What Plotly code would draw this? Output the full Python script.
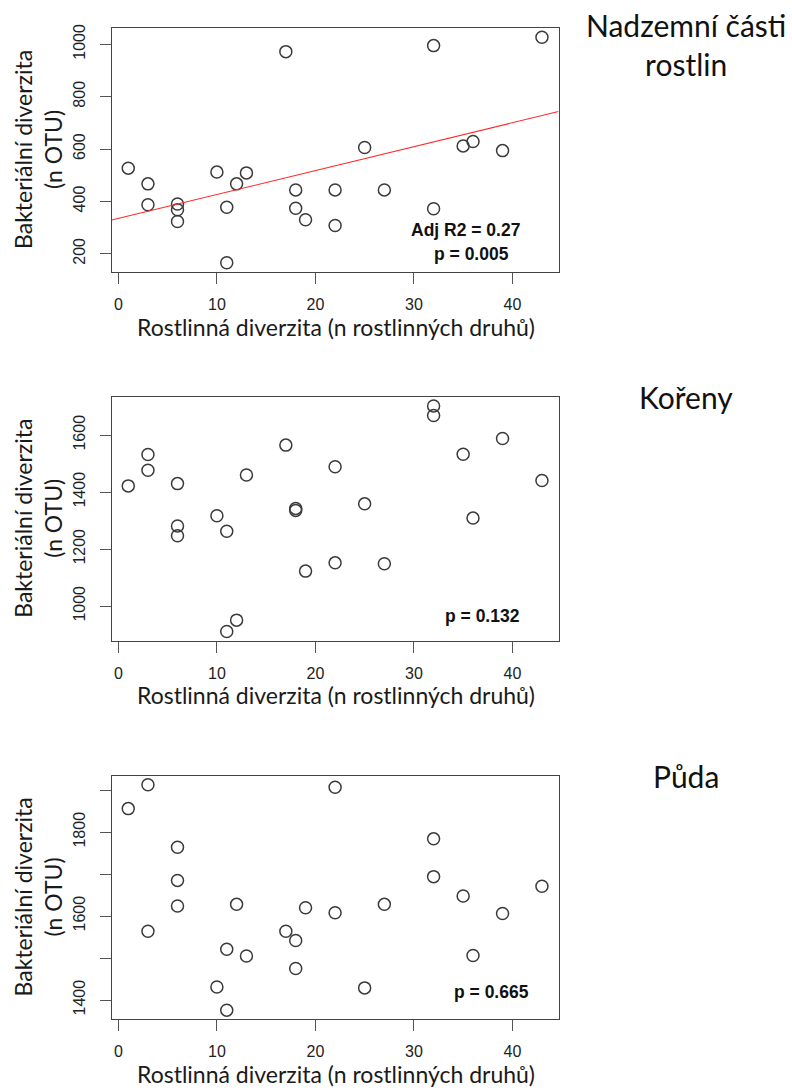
import numpy as np
import plotly.graph_objects as go

# ---------------- data ----------------
plant_species = [1, 3, 3, 6, 6, 6, 10, 11, 11, 12, 13, 17, 18, 18, 19, 22, 22, 25, 27, 32, 32, 35, 36, 39, 43]

otu_shoots = [527, 467, 387, 390, 368, 323, 512, 378, 166, 467, 509, 972, 444, 374, 330,
              444, 308, 606, 444, 995, 372, 612, 629, 594, 1027]
otu_roots = [1422, 1532, 1477, 1430, 1281, 1247, 1317, 1263, 911, 951, 1460, 1565, 1343, 1336, 1123,
             1489, 1152, 1359, 1149, 1702, 1669, 1533, 1309, 1588, 1441]
otu_soil = [1856, 1913, 1564, 1764, 1685, 1624, 1431, 1521, 1376, 1628, 1505, 1564, 1542, 1475, 1620,
            1907, 1608, 1429, 1628, 1784, 1694, 1648, 1506, 1606, 1671]

panel_titles = ["Nadzemní části<br>rostlin", "Kořeny", "Půda"]
stats_text = [["Adj R2 = 0.27", "p = 0.005"], ["p = 0.132"], ["p = 0.665"]]

x_tickvals = [0, 10, 20, 30, 40]
y_tickvals = [[200, 400, 600, 800, 1000],
              [1000, 1200, 1400, 1600],
              [1400, 1500, 1600, 1700, 1800, 1900]]
y_ticktext = [["200", "400", "600", "800", "1000"],
              ["1000", "1200", "1400", "1600"],
              ["1400", "", "1600", "", "1800", ""]]

x_title = "Rostlinná diverzita (n rostlinných druhů)"
y_title_1 = "Bakteriální diverzita"
y_title_2 = "(n OTU)"

# ---------------- layout helpers ----------------
W, H = 792, 1091
def px(p):
    return p / W
def py(p):
    return 1 - p / H

def r_range(v):
    v = np.asarray(v, dtype=float)
    lo, hi = v.min(), v.max()
    d = 0.04 * (hi - lo)
    return [lo - d, hi + d]

box_left, box_right = 111.7, 558.5
panel_tops = [24.3, 394.5, 774.5]
box_h = 244.4

series = [otu_shoots, otu_roots, otu_soil]

fig = go.Figure()
TICKFONT = dict(family="Liberation Sans, Arial", size=16, color="#222")
TITLEFONT = dict(family="Lato, Open Sans", size=23, color="#1a1a1a")
annotations = []

xr = r_range(plant_species)

for i, ys in enumerate(series):
    n = i + 1
    xa = "x" if n == 1 else f"x{n}"
    ya = "y" if n == 1 else f"y{n}"
    top = panel_tops[i]
    bot = top + box_h

    fig.add_trace(go.Scatter(
        x=plant_species, y=ys, mode="markers", xaxis=xa, yaxis=ya,
        marker=dict(symbol="circle-open", size=12, color="#3a3a3a", line=dict(width=1.5, color="#3a3a3a")),
        showlegend=False, hoverinfo="x+y"))

    if i == 0:
        b, a = np.polyfit(plant_species, ys, 1)
        lx = np.array(xr)
        fig.add_trace(go.Scatter(
            x=lx, y=a + b * lx, mode="lines", xaxis=xa, yaxis=ya,
            line=dict(color="#ff2a2a", width=1.1), showlegend=False, hoverinfo="skip"))

    yr = r_range(ys)
    common = dict(showline=True, mirror=True, linecolor="#444", linewidth=1.2,
                  ticks="outside", ticklen=11, tickwidth=1.2, tickcolor="#555",
                  showgrid=False, zeroline=False, tickfont=TICKFONT)
    fig.layout[f"xaxis{'' if n == 1 else n}"] = dict(
        domain=[px(box_left), px(box_right)], anchor=ya, range=xr,
        tickvals=x_tickvals, ticktext=[str(v) for v in x_tickvals],
        ticklabelstandoff=7, **common)
    fig.layout[f"yaxis{'' if n == 1 else n}"] = dict(
        domain=[py(bot), py(top)], anchor=xa, range=yr,
        tickvals=y_tickvals[i], ticktext=y_ticktext[i], tickangle=-90,
        ticklabelstandoff=8, **common)

    # axis titles
    annotations.append(dict(text=x_title, x=px(336), y=py(bot + 55), xref="paper", yref="paper",
                            xanchor="center", yanchor="middle", showarrow=False, font=TITLEFONT))
    mid = (top + bot) / 2
    annotations.append(dict(text=y_title_1, x=px(23), y=py(mid), xref="paper", yref="paper",
                            xanchor="center", yanchor="middle", textangle=-90, showarrow=False, font=TITLEFONT))
    annotations.append(dict(text=y_title_2, x=px(53), y=py(mid), xref="paper", yref="paper",
                            xanchor="center", yanchor="middle", textangle=-90, showarrow=False, font=TITLEFONT))
    # panel title
    ty = [41, 394, 775][i]
    annotations.append(dict(text=panel_titles[i], x=px(686), y=py(ty), xref="paper", yref="paper",
                            xanchor="center", yanchor="middle", showarrow=False,
                            font=dict(family="Lato, Open Sans", size=30, color="#111")))

# stats annotations
stat_pos = [[(466, 227), (471, 251)], [(482, 614)], [(491, 992)]]
for i, texts in enumerate(stats_text):
    for t, (sx, sy) in zip(texts, stat_pos[i]):
        annotations.append(dict(text=f"<b>{t}</b>", x=px(sx), y=py(sy), xref="paper", yref="paper",
                                xanchor="center", yanchor="middle", showarrow=False,
                                font=dict(family="Liberation Sans, Arial", size=17.5, color="#111")))

fig.update_layout(width=W, height=H, margin=dict(l=0, r=0, t=0, b=0),
                  paper_bgcolor="white", plot_bgcolor="white", annotations=annotations)

fig.write_html("out.html")
